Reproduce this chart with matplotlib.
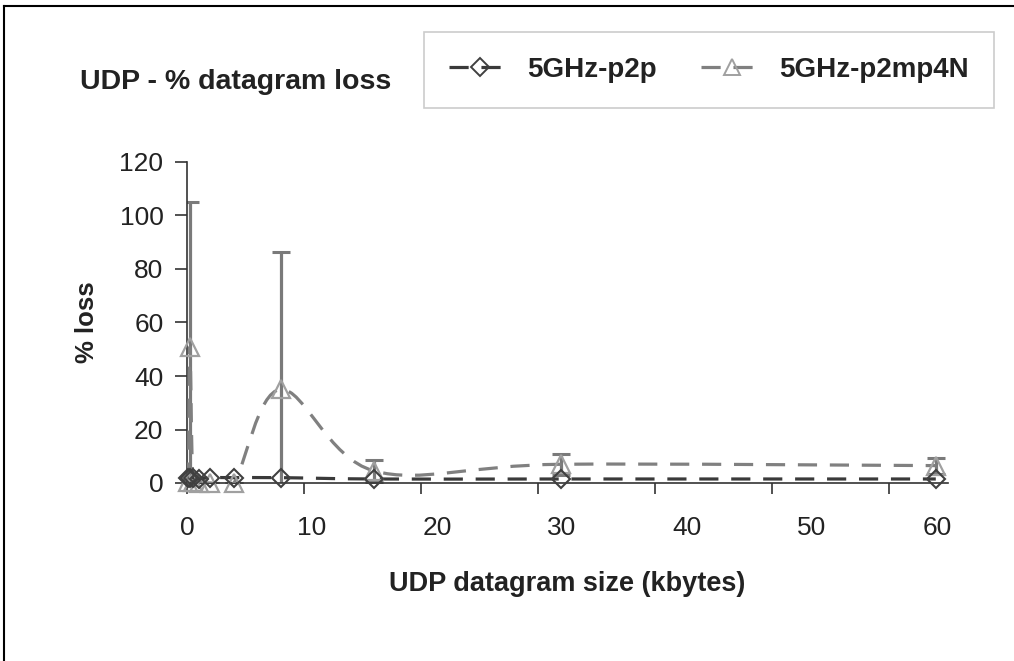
import numpy as np
import matplotlib
matplotlib.use("Agg")
import matplotlib.pyplot as plt
from matplotlib.path import Path
from matplotlib.patches import PathPatch
from matplotlib.lines import Line2D

plt.rcParams['font.family'] = ['Liberation Sans', 'DejaVu Sans']

# ---- data ----
sizes_kb = [0.125, 0.25, 0.5, 1, 2, 4, 8, 16, 32, 64]
loss_p2p = [2, 2, 2, 1.5, 2, 2, 2, 1.5, 1.5, 1.5]
loss_p2mp4n = [0.5, 51, 0.5, 0, 0, 0, 35, 4.5, 7, 6.5]
err_p2mp4n = [0, 54, 0, 0, 0, 0, 51.5, 4, 4, 3]
x_ticks = [0, 10, 20, 30, 40, 50, 60]
y_ticks = [0, 20, 40, 60, 80, 100, 120]
series_names = ["5GHz-p2p", "5GHz-p2mp4N"]

W, H = 1014, 661
fig = plt.figure(figsize=(W / 100, H / 100), dpi=100)
ax = fig.add_axes([187 / W, 1 - 483 / H, (947.5 - 187) / W, (483 - 162) / H])
ax.set_xlim(0, 65)
ax.set_ylim(0, 120)


def smooth_path(xs, ys):
    """Excel-like smoothed line as cubic Bezier segments (Catmull-Rom)."""
    pts = np.column_stack([xs, ys]).astype(float)
    n = len(pts)
    verts = [pts[0]]
    codes = [Path.MOVETO]
    for i in range(n - 1):
        p0 = pts[i - 1] if i > 0 else pts[i]
        p1 = pts[i]
        p2 = pts[i + 1]
        p3 = pts[i + 2] if i + 2 < n else pts[i + 1]
        c1 = p1 + (p2 - p0) / 6.0
        c2 = p2 - (p3 - p1) / 6.0
        verts += [c1, c2, p2]
        codes += [Path.CURVE4] * 3
    return Path(verts, codes)


c_p2p = '#3a3a3a'
c_mp = '#808080'
c_mp_mk = '#a0a0a0'
lw = 2.3
dash = (0, (6, 4))

# error bars (p2mp4N)
ax.errorbar(sizes_kb, loss_p2mp4n, yerr=err_p2mp4n, fmt='none',
            ecolor='#7a7a7a', elinewidth=2.3, capsize=6.5, capthick=2.2, zorder=2)

# smoothed dashed lines
ax.add_patch(PathPatch(smooth_path(sizes_kb, loss_p2mp4n), fill=False,
                       edgecolor=c_mp, lw=lw, linestyle=dash, zorder=3,
                       capstyle='butt'))
ax.add_patch(PathPatch(smooth_path(sizes_kb, loss_p2p), fill=False,
                       edgecolor=c_p2p, lw=lw, linestyle=dash, zorder=4,
                       capstyle='butt'))

# markers
ax.plot(sizes_kb, loss_p2mp4n, linestyle='none', marker='^', ms=13,
        mfc='none', mec=c_mp_mk, mew=1.6, clip_on=False, zorder=5)
ax.plot(sizes_kb, loss_p2p, linestyle='none', marker='D', ms=9.5,
        mfc='none', mec='#404040', mew=1.5, clip_on=False, zorder=6)

# axes styling
for s in ['top', 'right']:
    ax.spines[s].set_visible(False)
for s in ['left', 'bottom']:
    ax.spines[s].set_color('#333333')
    ax.spines[s].set_linewidth(1.2)
ax.set_yticks(y_ticks)
ax.set_yticklabels([str(v) for v in y_ticks])
ax.tick_params(axis='y', direction='out', length=9, width=1.2, color='#333333',
               labelsize=19, pad=8, labelcolor='#222222')
ax.set_xticks(x_ticks)
ax.set_xticklabels([])
ax.tick_params(axis='x', direction='out', length=8, width=1.2, color='#333333')

# tick labels on the bottom (drawn slightly wider-spaced than the tick marks)
K = 125.0 / 117.0
sec = ax.secondary_xaxis('bottom', functions=(lambda x: x / K, lambda v: v * K))
sec.set_xticks(x_ticks)
sec.set_xticklabels([str(v) for v in x_ticks])
sec.tick_params(axis='x', length=0, labelsize=19, pad=24, labelcolor='#222222')
sec.spines['bottom'].set_visible(False)

ax.set_ylabel('% loss', fontsize=18.5, fontweight='bold', color='#222222', labelpad=15)
sec.set_xlabel('UDP datagram size (kbytes)', fontsize=19.5, fontweight='bold',
               color='#222222', labelpad=22)

# title
fig.text(80 / W, 1 - 82 / H, 'UDP - % datagram loss', fontsize=20.5,
         fontweight='bold', color='#222222', va='center', ha='left')

# legend
handles = [
    Line2D([], [], color=c_p2p, lw=lw, linestyle=dash, marker='D', ms=9,
           mfc='none', mec='#404040', mew=1.4),
    Line2D([], [], color=c_mp, lw=lw, linestyle=dash, marker='^', ms=12,
           mfc='none', mec=c_mp_mk, mew=1.4),
]
leg = fig.legend(handles, series_names, loc='center',
                 bbox_to_anchor=(430 / W, 1 - 105 / H, 558 / W, 70 / H),
                 ncol=2, frameon=True, fancybox=False, framealpha=1,
                 edgecolor='#cccccc', prop={'size': 20, 'weight': 'bold'},
                 handlelength=2.2, handletextpad=0.6, columnspacing=1.6,
                 borderpad=0.9)
leg.get_frame().set_linewidth(1.2)
for t in leg.get_texts():
    t.set_color('#222222')

# outer frame (top and left edges)
fig.add_artist(Line2D([4 / W, 4 / W], [0, 1 - 6 / H], transform=fig.transFigure,
                      color='black', lw=1.5))
fig.add_artist(Line2D([4 / W, 1], [1 - 6 / H, 1 - 6 / H], transform=fig.transFigure,
                      color='black', lw=1.5))

fig.savefig('out.png', dpi=100, facecolor='white')
